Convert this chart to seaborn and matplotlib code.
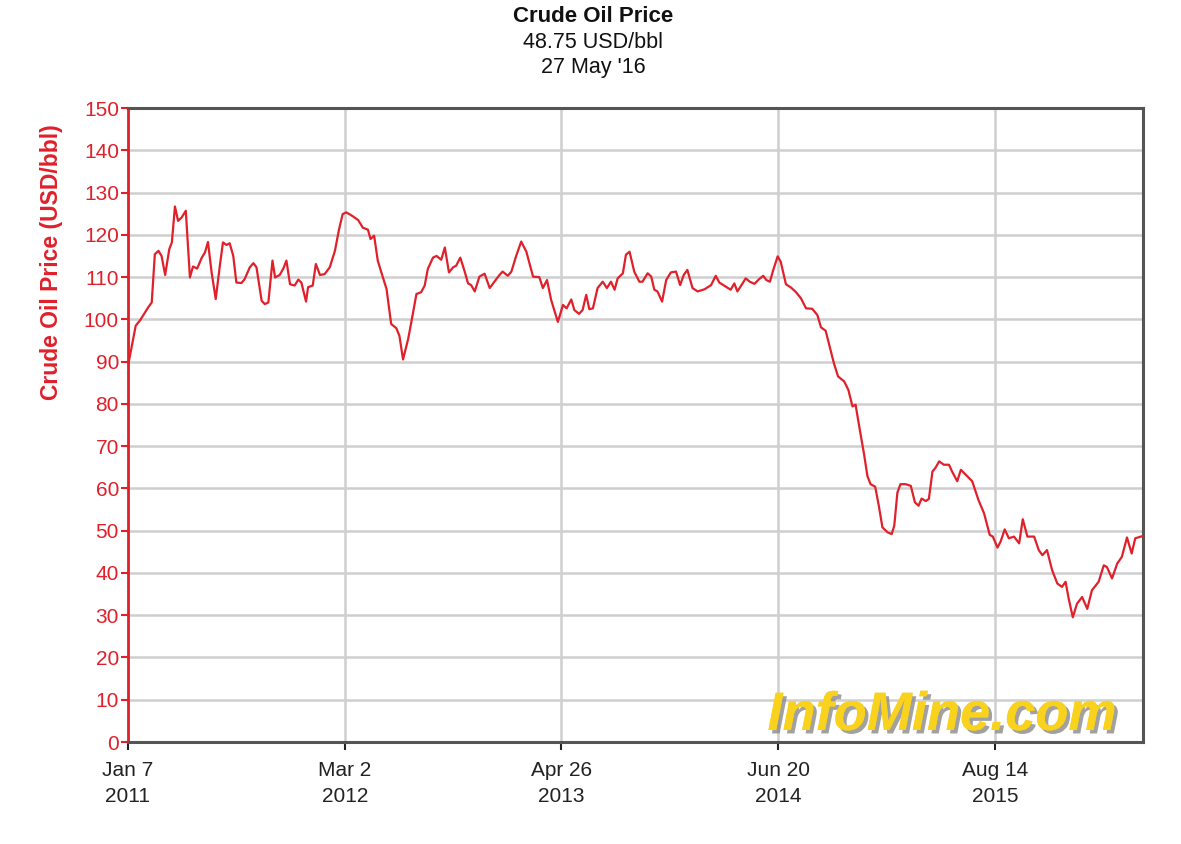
import numpy as np
import pandas as pd
import matplotlib
matplotlib.use("Agg")
import matplotlib.pyplot as plt
import matplotlib.dates as mdates
import matplotlib.patheffects as pe
import seaborn as sns

# ---------------- data ----------------
start_date = "2011-01-07"
end_date = "2016-05-27"
day_offsets = [
    0, 15, 23, 39, 46, 52, 59, 65, 72, 80,
    85, 91, 97, 104, 112, 120, 126, 134, 143, 149,
    155, 162, 170, 178, 184, 191, 197, 204, 210, 220,
    226, 236, 243, 249, 259, 265, 272, 280, 285, 294,
    301, 307, 314, 323, 330, 336, 345, 349, 358, 364,
    372, 381, 391, 401, 409, 416, 423, 433, 446, 455,
    465, 470, 477, 484, 494, 501, 510, 520, 526, 533,
    543, 549, 559, 568, 575, 581, 591, 598, 607, 614,
    622, 630, 636, 644, 652, 659, 665, 672, 681, 691,
    701, 710, 720, 726, 736, 743, 752, 762, 772, 785,
    797, 804, 812, 820, 833, 843, 850, 859, 865, 874,
    881, 888, 894, 901, 910, 920, 928, 936, 943, 949,
    959, 965, 972, 981, 991, 997, 1007, 1014, 1020, 1026,
    1035, 1043, 1052, 1062, 1070, 1077, 1084, 1094, 1104, 1117,
    1130, 1139, 1146, 1159, 1168, 1175, 1181, 1191, 1197, 1205,
    1214, 1223, 1231, 1237, 1244, 1250, 1259, 1265, 1275, 1285,
    1294, 1304, 1314, 1326, 1336, 1343, 1352, 1360, 1368, 1376,
    1388, 1396, 1404, 1410, 1417, 1426, 1433, 1439, 1448, 1455,
    1462, 1472, 1480, 1485, 1491, 1497, 1507, 1517, 1525, 1532,
    1538, 1546, 1552, 1559, 1565, 1572, 1581, 1591, 1597, 1607,
    1614, 1623, 1636, 1648, 1659, 1670, 1676, 1685, 1691, 1699,
    1707, 1717, 1727, 1734, 1743, 1756, 1765, 1772, 1781, 1791,
    1801, 1810, 1817, 1823, 1831, 1839, 1849, 1859, 1868, 1881,
    1891, 1897, 1907, 1917, 1926, 1936, 1945, 1952, 1967,
]
price_usd_bbl = [
    89, 98.5, 99.7, 102.8, 104, 115.4, 116.2, 115, 110.5, 116.6,
    118.2, 126.7, 123.3, 124.1, 125.7, 109.9, 112.5, 112, 114.6, 115.8,
    118.3, 111.1, 104.8, 112.7, 118.2, 117.6, 118, 115, 108.7, 108.6,
    109.5, 112.3, 113.3, 112.3, 104.4, 103.6, 104, 113.9, 109.9, 110.5,
    112, 113.9, 108.3, 108, 109.4, 108.7, 104.2, 107.6, 108, 113.1,
    110.5, 110.7, 112.3, 116.2, 121.3, 124.9, 125.3, 124.6, 123.5, 121.7,
    121.2, 119, 119.8, 113.9, 109.9, 107.2, 98.9, 97.9, 96.1, 90.5,
    95.4, 99.3, 106, 106.4, 108, 111.9, 114.6, 115, 114.1, 117,
    111.1, 112.3, 112.7, 114.6, 111.5, 108.5, 108.1, 106.6, 110.1, 110.8,
    107.4, 108.9, 110.5, 111.3, 110.3, 111.3, 114.9, 118.4, 116, 110.1,
    110, 107.4, 109.3, 104.6, 99.4, 103.4, 102.6, 104.7, 102.2, 101.3,
    102.2, 105.8, 102.4, 102.6, 107.4, 108.9, 107.4, 108.9, 107, 109.7,
    110.9, 115.3, 116, 111.3, 108.9, 108.9, 110.9, 110.1, 107, 106.6,
    104.2, 109.3, 111.1, 111.3, 108.1, 110.5, 111.7, 107.4, 106.6, 107.1,
    108.1, 110.3, 108.7, 107.7, 107, 108.5, 106.6, 108.5, 109.7, 108.9,
    108.4, 109.5, 110.3, 109.3, 108.9, 111.5, 114.9, 113.6, 108.3, 107.5,
    106.5, 105, 102.6, 102.5, 101, 98.1, 97.3, 93.5, 89.6, 86.5,
    85.3, 83.3, 79.4, 79.8, 74.7, 68.4, 62.9, 61, 60.4, 55.9,
    50.8, 49.6, 49.2, 51.2, 59, 61, 61, 60.6, 56.7, 55.9,
    57.6, 57, 57.5, 64, 64.9, 66.4, 65.6, 65.6, 64, 61.7,
    64.4, 63.3, 61.7, 57.3, 54.1, 49, 48.6, 46, 47.4, 50.3,
    48.2, 48.6, 47, 52.7, 48.6, 48.6, 45.4, 44.2, 45.4, 40.6,
    37.5, 36.7, 37.9, 33.9, 29.5, 32.7, 34.3, 31.5, 35.9, 37.9,
    41.8, 41.4, 38.7, 42.2, 43.8, 48.4, 44.6, 48.2, 48.75,
]
tick_dates = ["2011-01-07", "2012-03-02", "2013-04-26", "2014-06-20", "2015-08-14"]
tick_labels = ["Jan 7\n2011", "Mar 2\n2012", "Apr 26\n2013", "Jun 20\n2014", "Aug 14\n2015"]
y_ticks = list(range(0, 151, 10))
title_lines = ["Crude Oil Price", "48.75 USD/bbl", "27 May '16"]
y_label = "Crude Oil Price (USD/bbl)"
watermark = "InfoMine.com"

# ---------------- style ----------------
RED = "#e0202a"
GRID = "#cfcfcf"
FRAME = "#555555"

sns.set_theme(style="white")
plt.rcParams['font.family'] = ['Liberation Sans', 'DejaVu Sans']

df = pd.DataFrame({
    "date": pd.Timestamp(start_date) + pd.to_timedelta(day_offsets, unit="D"),
    "price": price_usd_bbl,
})

W, H = 1181, 844
fig = plt.figure(figsize=(W / 100, H / 100), dpi=100)
fig.patch.set_facecolor("white")
L, R, T, B = 128, 1143, 108, 742
ax = fig.add_axes([L / W, 1 - B / H, (R - L) / W, (B - T) / H])

sns.lineplot(data=df, x="date", y="price", ax=ax, color=RED, linewidth=1.6, zorder=3)

ax.set_xlim(pd.Timestamp(start_date), pd.Timestamp(end_date))
ax.set_ylim(0, 150)
ax.set_yticks(y_ticks)
ax.set_xticks(pd.to_datetime(tick_dates))
ax.set_xticklabels(tick_labels, fontsize=15, color="#222222", linespacing=1.5)
ax.set_yticklabels([str(v) for v in y_ticks], fontsize=15, color=RED)
ax.set_xlabel("")
ax.set_ylabel("")

ax.grid(True, color=GRID, linewidth=1.8)
ax.set_axisbelow(True)

ax.tick_params(axis="y", which="major", direction="out", length=5, width=1.5,
               color=RED, pad=1.5, left=True)
ax.tick_params(axis="x", which="major", direction="out", length=6, width=1.5,
               color="#222222", pad=7.5, bottom=True)

for side in ["top", "right", "bottom"]:
    ax.spines[side].set_visible(True)
    ax.spines[side].set_color(FRAME)
    ax.spines[side].set_linewidth(2.2)
ax.spines["left"].set_color(RED)
ax.spines["left"].set_linewidth(2)
ax.spines["bottom"].set_zorder(4)

# titles
fig.text(593 / W, 1 - 17 / H, title_lines[0], ha="center", va="center",
         fontsize=16, fontweight="bold", color="#111111")
fig.text(593 / W, 1 - 43 / H, title_lines[1], ha="center", va="center",
         fontsize=15.5, color="#111111")
fig.text(593 / W, 1 - 68 / H, title_lines[2], ha="center", va="center",
         fontsize=15.5, color="#111111")

# y label
fig.text(52 / W, 1 - 262 / H, y_label, ha="center", va="center", rotation=90,
         fontsize=16.5, fontweight="bold", color=RED)

# watermark
fig.text(942 / W, 1 - 730 / H, watermark, ha="center", va="baseline",
         fontsize=39, fontweight="bold", fontstyle="italic", color="#f8d21c",
         zorder=5,
         path_effects=[pe.withSimplePatchShadow(offset=(2.5, -2.5),
                                                shadow_rgbFace="#8a8a8a", alpha=0.8),
                       pe.Normal()])

fig.savefig("out.png", dpi=100, facecolor="white")
